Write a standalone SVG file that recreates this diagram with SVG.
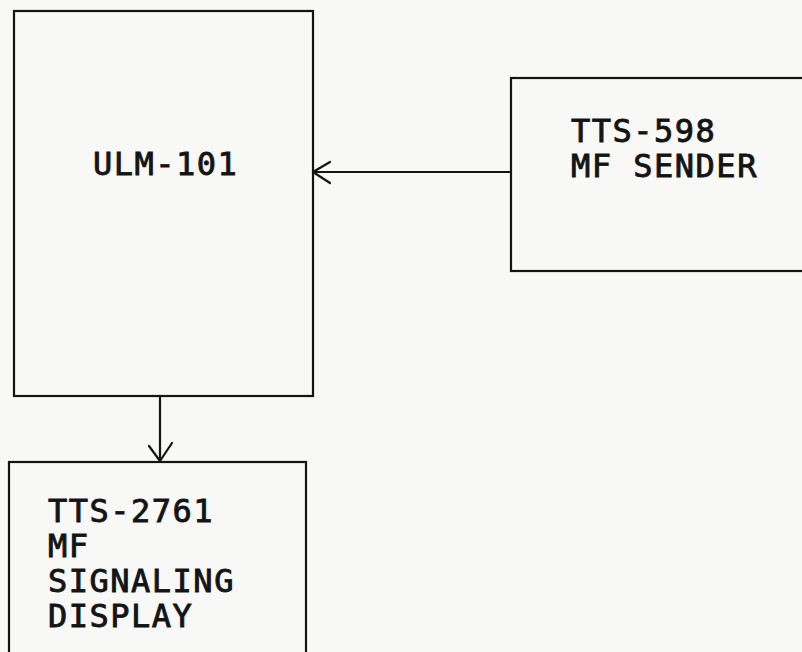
<svg xmlns="http://www.w3.org/2000/svg" width="802" height="652" viewBox="0 0 802 652">
<style>
.box{fill:none;stroke:#141414;stroke-width:2.2}
.lbl{font-family:"DejaVu Sans Mono","Liberation Mono",monospace;font-size:32px;letter-spacing:1.5px;fill:#141414;stroke:#141414;stroke-width:0.9}
.con{fill:none;stroke:#141414;stroke-width:2.2;stroke-linecap:round;stroke-linejoin:round}
</style>
<rect x="0" y="0" width="802" height="652" fill="#f8f8f7"/>
<g id="ulm101">
<rect class="box" x="14" y="11" width="299" height="385"/>
<text class="lbl" x="93" y="175">ULM-101</text>
</g>
<g id="tts598">
<rect class="box" x="511" y="78" width="300" height="193"/>
<text class="lbl" x="571" y="142">TTS-598</text>
<text class="lbl" x="571" y="177">MF SENDER</text>
</g>
<g id="tts2761">
<rect class="box" x="9" y="462" width="297" height="200"/>
<text class="lbl" x="48" y="522">TTS-2761</text>
<text class="lbl" x="48" y="557">MF</text>
<text class="lbl" x="48" y="592">SIGNALING</text>
<text class="lbl" x="48" y="627">DISPLAY</text>
</g>
<g id="connectors">
<path class="con" d="M511 172 L313 172"/>
<path class="con" d="M330 162 L313 172 L330 183"/>
<path class="con" d="M160 396 L160 462"/>
<path class="con" d="M149 446 L160 461 L172 443"/>
</g>
</svg>
